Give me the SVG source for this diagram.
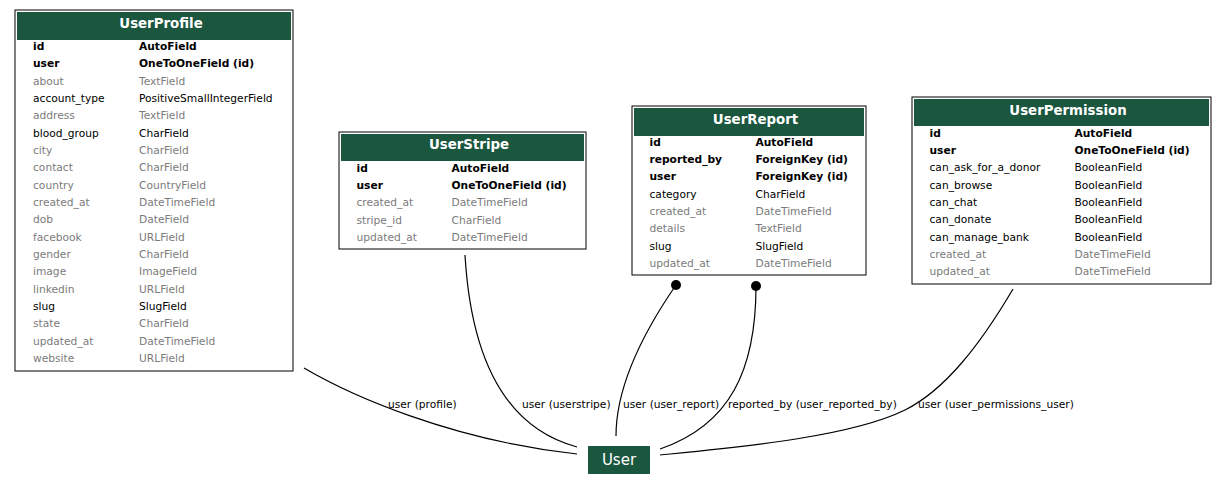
<svg xmlns="http://www.w3.org/2000/svg" width="1227" height="489" viewBox="0 0 1227 489">
<style>
text{font-family:"DejaVu Sans","Liberation Sans",sans-serif}
.box{fill:#fff;stroke:#000;stroke-width:1}
.hdr{fill:#1b563f}
.title{font-size:13.33px;font-weight:bold;fill:#fff;text-anchor:middle}
.f{font-size:10.67px;fill:#000}
.b{font-weight:bold}
.g{fill:#7b7b7b}
.edge{fill:none;stroke:#000;stroke-width:1.2}
.lbl{font-size:10.67px;fill:#000}
.unode{fill:#1b563f}
.utext{font-size:15px;fill:#fff;text-anchor:middle}
</style>
<g id="UserProfile">
<rect class="box" x="15" y="10" width="278" height="361"/>
<rect class="hdr" x="17" y="12" width="274" height="28"/>
<text class="title" x="161" y="27.7">UserProfile</text>
<text class="f b" x="33" y="50">id</text><text class="f b" x="139" y="50">AutoField</text>
<text class="f b" x="33" y="67.3">user</text><text class="f b" x="139" y="67.3">OneToOneField (id)</text>
<text class="f g" x="33" y="84.7">about</text><text class="f g" x="139" y="84.7">TextField</text>
<text class="f" x="33" y="102">account_type</text><text class="f" x="139" y="102">PositiveSmallIntegerField</text>
<text class="f g" x="33" y="119.3">address</text><text class="f g" x="139" y="119.3">TextField</text>
<text class="f" x="33" y="136.7">blood_group</text><text class="f" x="139" y="136.7">CharField</text>
<text class="f g" x="33" y="154">city</text><text class="f g" x="139" y="154">CharField</text>
<text class="f g" x="33" y="171.3">contact</text><text class="f g" x="139" y="171.3">CharField</text>
<text class="f g" x="33" y="188.6">country</text><text class="f g" x="139" y="188.6">CountryField</text>
<text class="f g" x="33" y="206">created_at</text><text class="f g" x="139" y="206">DateTimeField</text>
<text class="f g" x="33" y="223.3">dob</text><text class="f g" x="139" y="223.3">DateField</text>
<text class="f g" x="33" y="240.6">facebook</text><text class="f g" x="139" y="240.6">URLField</text>
<text class="f g" x="33" y="258">gender</text><text class="f g" x="139" y="258">CharField</text>
<text class="f g" x="33" y="275.3">image</text><text class="f g" x="139" y="275.3">ImageField</text>
<text class="f g" x="33" y="292.6">linkedin</text><text class="f g" x="139" y="292.6">URLField</text>
<text class="f" x="33" y="310">slug</text><text class="f" x="139" y="310">SlugField</text>
<text class="f g" x="33" y="327.3">state</text><text class="f g" x="139" y="327.3">CharField</text>
<text class="f g" x="33" y="344.6">updated_at</text><text class="f g" x="139" y="344.6">DateTimeField</text>
<text class="f g" x="33" y="362">website</text><text class="f g" x="139" y="362">URLField</text>
</g>
<g id="UserStripe">
<rect class="box" x="339" y="132" width="247" height="117"/>
<rect class="hdr" x="341" y="134" width="243" height="27"/>
<text class="title" x="469" y="149">UserStripe</text>
<text class="f b" x="356.5" y="171.5">id</text><text class="f b" x="451.5" y="171.5">AutoField</text>
<text class="f b" x="356.5" y="188.8">user</text><text class="f b" x="451.5" y="188.8">OneToOneField (id)</text>
<text class="f g" x="356.5" y="206.2">created_at</text><text class="f g" x="451.5" y="206.2">DateTimeField</text>
<text class="f g" x="356.5" y="223.5">stripe_id</text><text class="f g" x="451.5" y="223.5">CharField</text>
<text class="f g" x="356.5" y="240.8">updated_at</text><text class="f g" x="451.5" y="240.8">DateTimeField</text>
</g>
<g id="UserReport">
<rect class="box" x="632" y="106" width="234" height="169"/>
<rect class="hdr" x="634" y="108" width="230" height="28"/>
<text class="title" x="755.5" y="124">UserReport</text>
<text class="f b" x="649.5" y="145.5">id</text><text class="f b" x="755.5" y="145.5">AutoField</text>
<text class="f b" x="649.5" y="162.8">reported_by</text><text class="f b" x="755.5" y="162.8">ForeignKey (id)</text>
<text class="f b" x="649.5" y="180.2">user</text><text class="f b" x="755.5" y="180.2">ForeignKey (id)</text>
<text class="f" x="649.5" y="197.5">category</text><text class="f" x="755.5" y="197.5">CharField</text>
<text class="f g" x="649.5" y="214.8">created_at</text><text class="f g" x="755.5" y="214.8">DateTimeField</text>
<text class="f g" x="649.5" y="232.2">details</text><text class="f g" x="755.5" y="232.2">TextField</text>
<text class="f" x="649.5" y="249.5">slug</text><text class="f" x="755.5" y="249.5">SlugField</text>
<text class="f g" x="649.5" y="266.8">updated_at</text><text class="f g" x="755.5" y="266.8">DateTimeField</text>
</g>
<g id="UserPermission">
<rect class="box" x="912" y="97" width="299" height="187"/>
<rect class="hdr" x="914" y="99" width="295" height="27"/>
<text class="title" x="1068" y="114.7">UserPermission</text>
<text class="f b" x="929.5" y="136.5">id</text><text class="f b" x="1074.5" y="136.5">AutoField</text>
<text class="f b" x="929.5" y="153.8">user</text><text class="f b" x="1074.5" y="153.8">OneToOneField (id)</text>
<text class="f" x="929.5" y="171.2">can_ask_for_a_donor</text><text class="f" x="1074.5" y="171.2">BooleanField</text>
<text class="f" x="929.5" y="188.5">can_browse</text><text class="f" x="1074.5" y="188.5">BooleanField</text>
<text class="f" x="929.5" y="205.8">can_chat</text><text class="f" x="1074.5" y="205.8">BooleanField</text>
<text class="f" x="929.5" y="223.2">can_donate</text><text class="f" x="1074.5" y="223.2">BooleanField</text>
<text class="f" x="929.5" y="240.5">can_manage_bank</text><text class="f" x="1074.5" y="240.5">BooleanField</text>
<text class="f g" x="929.5" y="257.8">created_at</text><text class="f g" x="1074.5" y="257.8">DateTimeField</text>
<text class="f g" x="929.5" y="275.2">updated_at</text><text class="f g" x="1074.5" y="275.2">DateTimeField</text>
</g>
<g id="User">
<rect class="unode" x="588" y="446" width="62" height="28"/>
<text class="utext" x="619" y="464.5">User</text>
</g>
<g id="connectors">
<path class="edge" d="M304,368 C350,395 450,440 577,454"/>
<text class="lbl" x="388" y="408">user (profile)</text>
<path class="edge" d="M465,255 C470,340 495,425 577,447"/>
<text class="lbl" x="522" y="408">user (userstripe)</text>
<path class="edge" d="M676,285 C645,330 616,385 616,436"/>
<circle cx="676" cy="285" r="5" fill="#000"/>
<text class="lbl" x="623" y="408">user (user_report)</text>
<path class="edge" d="M756,286 C756,370 730,425 660,449"/>
<circle cx="756" cy="286" r="5" fill="#000"/>
<text class="lbl" x="728" y="408">reported_by (user_reported_by)</text>
<path class="edge" d="M1013,289 C980,345 945,390 905,410 C850,437 740,447 660,455"/>
<text class="lbl" x="918" y="408">user (user_permissions_user)</text>
</g>
</svg>
